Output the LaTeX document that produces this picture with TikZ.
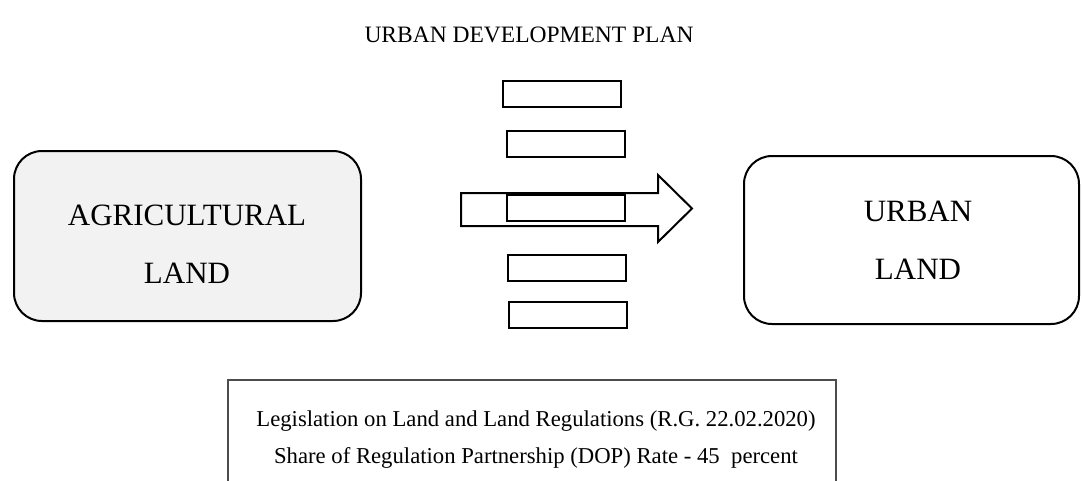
\documentclass[tikz,border=0pt]{standalone}
\usepackage{fontspec}
\setmainfont{Liberation Serif}
\definecolor{landfill}{HTML}{F2F2F2}
\tikzset{
  txt/.style={inner sep=0pt, align=center},
  bigtxt/.style={txt, font=\fontsize{31}{58}\selectfont},
  smalltxt/.style={txt, font=\fontsize{22.7}{37}\selectfont},
  landbox/.style={draw=black, line width=2pt, rounded corners=28pt, inner sep=0pt},
  stepbox/.style={draw=black, line width=2pt, fill=white, minimum width=118pt,
                  minimum height=26pt, inner sep=0pt},
  blockarrow/.style={draw=black, line width=2pt, fill=white, line join=miter},
}
\begin{document}
\begin{tikzpicture}[x=1pt, y=-1pt]
  \useasboundingbox (0,0) rectangle (1082,480);

  % heading
  \node[txt, font=\fontsize{23.5}{28}\selectfont, anchor=base] (title) at (529,42.5) {URBAN DEVELOPMENT PLAN};

  % the two land categories
  \node[landbox, fill=landfill, minimum width=347pt, minimum height=170pt] (agri) at (187.5,236) {};
  \node[bigtxt] (agritext) at (187,244.5) {AGRICULTURAL\\LAND};

  \node[landbox, fill=white, minimum width=335pt, minimum height=168pt] (urban) at (911.5,240) {};
  \node[bigtxt] (urbantext) at (918,240) {URBAN\\LAND};

  % transformation arrow
  \draw[blockarrow] (461,193) -- (658,193) -- (658,175) -- (692,208.5)
        -- (658,242) -- (658,226) -- (461,226) -- cycle;

  % plan stages
  \node[stepbox] (s1) at (562,94) {};
  \node[stepbox] (s2) at (566,144) {};
  \node[stepbox] (s3) at (566,208) {};
  \node[stepbox] (s4) at (567,267.5) {};
  \node[stepbox] (s5) at (567.5,315) {};

  % legislation note (box open at the page edge)
  \draw[black!70, line width=1.5pt] (228,482) -- (228,380) -- (836,380) -- (836,482);
  \node[smalltxt] (law) at (536,440)
    {Legislation on Land and Land Regulations (R.G. 22.02.2020)\\
     Share of Regulation Partnership (DOP) Rate - 45~~percent};
\end{tikzpicture}
\end{document}
